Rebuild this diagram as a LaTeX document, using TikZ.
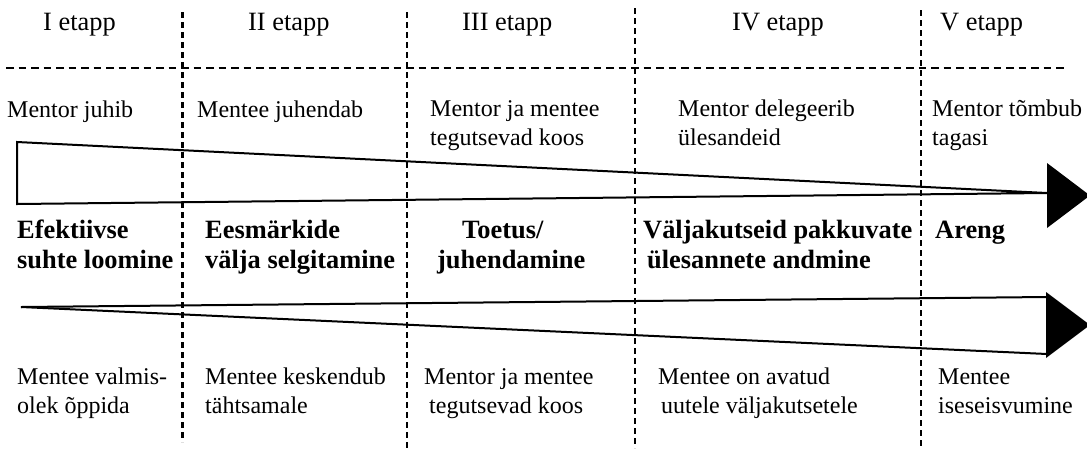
\documentclass[tikz,border=0pt]{standalone}
\usepackage{fontspec}
\setmainfont{Liberation Serif}
\begin{document}
\begin{tikzpicture}[x=1pt,y=-1pt,
  % two-line labels are placed by the baseline of their last line
  txt/.style={anchor=base west, inner sep=0pt, align=left,
    font=\fontsize{24}{28.5}\selectfont},
  stage/.style={anchor=base west, inner sep=0pt,
    font=\fontsize{26.4}{30}\selectfont},
  bold/.style={anchor=base west, inner sep=0pt, align=left,
    font=\fontsize{26.4}{30}\selectfont\bfseries},
  sep/.style={line width=1.6pt, dash pattern=on 6pt off 4pt},
  sepbold/.style={line width=3pt, dash pattern=on 6pt off 4pt},
  rule/.style={line width=1.6pt, dash pattern=on 7.5pt off 5pt},
  edge/.style={line width=2pt, line join=miter},
  head/.style={fill=black, draw=none}]
\useasboundingbox (0,0) rectangle (1087,448);

% stage separators
\coordinate (s1t) at (182,12);  \coordinate (s1b) at (182,442);
\coordinate (s2t) at (407,12);  \coordinate (s2b) at (407,448);
\coordinate (s3t) at (635,8);   \coordinate (s3b) at (635,448);
\coordinate (s4t) at (921,10);  \coordinate (s4b) at (921,448);
\draw[sepbold] (s1t) -- (s1b);
\draw[sep] (s2t) -- (s2b);
\draw[sep] (s3t) -- (s3b);
\draw[sep] (s4t) -- (s4b);

% header rule
\coordinate (rl) at (6,68); \coordinate (rr) at (1066,68);
\draw[rule] (rl) -- (rr);

% stage headers
\node[stage] (h1) at (43,30)  {I etapp};
\node[stage] (h2) at (248,30) {II etapp};
\node[stage] (h3) at (462,30) {III etapp};
\node[stage] (h4) at (732,30) {IV etapp};
\node[stage] (h5) at (940,30) {V etapp};

% mentor role
\node[txt] (m1) at (7,117)   {Mentor juhib};
\node[txt] (m2) at (197,117) {Mentee juhendab};
\node[txt] (m3) at (430,145) {Mentor ja mentee\\tegutsevad koos};
\node[txt] (m4) at (678,145) {Mentor delegeerib\\ülesandeid};
\node[txt] (m5) at (932,145) {Mentor tõmbub\\tagasi};

% decreasing mentor wedge
\coordinate (wa) at (17,142);
\coordinate (wb) at (17,204);
\coordinate (wc) at (1047,193);
\draw[edge] (wa) -- (wc) -- (wb) -- cycle;
\coordinate (ua) at (1047,163);
\coordinate (ub) at (1047,228);
\coordinate (uc) at (1090,195.5);
\fill[head] (ua) -- (uc) -- (ub) -- cycle;

% stage goals
\node[bold] (g1) at (17,268)  {Efektiivse\\suhte loomine};
\node[bold] (g2) at (205,268) {Eesmärkide\\välja selgitamine};
\node[bold] (g3) at (462,238) {Toetus/};
\node[bold] (g3b) at (437,268) {juhendamine};
\node[bold] (g4) at (643,238) {Väljakutseid pakkuvate};
\node[bold] (g4b) at (647,268) {ülesannete andmine};
\node[bold] (g5) at (935,238) {Areng};

% increasing mentee wedge
\coordinate (la) at (21,307);
\coordinate (lb) at (1047,297);
\coordinate (lc) at (1047,354);
\draw[edge] (la) -- (lb);
\draw[edge] (la) -- (lc);
\coordinate (da) at (1046,292);
\coordinate (db) at (1046,358);
\coordinate (dc) at (1090,325);
\fill[head] (da) -- (dc) -- (db) -- cycle;

% mentee role
\node[txt] (e1) at (17,413)  {Mentee valmis-\\olek õppida};
\node[txt] (e2) at (205,413) {Mentee keskendub\\tähtsamale};
\node[txt] (e3) at (424,384) {Mentor ja mentee};
\node[txt] (e3b) at (429,413) {tegutsevad koos};
\node[txt] (e4) at (658,384) {Mentee on avatud};
\node[txt] (e4b) at (661,413) {uutele väljakutsetele};
\node[txt] (e5) at (938,413) {Mentee\\iseseisvumine};
\end{tikzpicture}
\end{document}
